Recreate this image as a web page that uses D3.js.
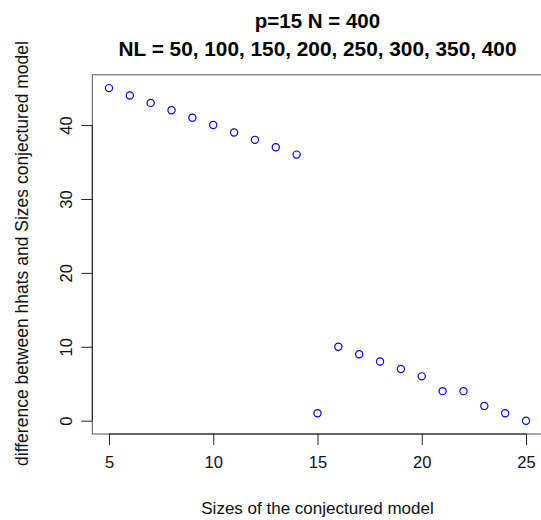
<!DOCTYPE html>
<html><head><meta charset="utf-8">
<script src="https://cdn.jsdelivr.net/npm/d3@7"></script>
<style>body{margin:0;background:#fff;} svg{display:block;}</style>
</head><body>
<script>
const sizes = [5,6,7,8,9,10,11,12,13,14,15,16,17,18,19,20,21,22,23,24,25];
const differences = [45,44,43,42,41,40,39,38,37,36,1,10,9,8,7,6,4,4,2,1,0];
const xTicks = [5,10,15,20,25];
const yTicks = [0,10,20,30,40];
const titleLines = ["p=15 N = 400", "NL = 50, 100, 150, 200, 250, 300, 350, 400"];
const xLabel = "Sizes of the conjectured model";
const yLabel = "difference between hhats and Sizes conjectured model";

const W = 541, H = 520;
const svg = d3.select("body").append("svg").attr("width", W).attr("height", H);
const font = "Liberation Sans, Arial, sans-serif";

const x = d3.scaleLinear().domain([4.2, 25.8]).range([92.3, 542.7]);
const y = d3.scaleLinear().domain([-1.8, 46.8]).range([434, 74.8]);

// box
svg.append("rect").attr("x", x(4.2)).attr("y", y(46.8))
  .attr("width", x(25.8)-x(4.2)).attr("height", y(-1.8)-y(46.8))
  .attr("fill","none").attr("stroke","#555").attr("stroke-width",1);

// x axis
const xa = svg.append("g").attr("transform", `translate(0,${y(-1.8)})`)
  .call(d3.axisBottom(x).tickValues(xTicks).tickSize(11).tickPadding(11).tickFormat(d3.format("d")));
xa.select(".domain").attr("d", `M${x(5)},0H${x(25)}`);
xa.selectAll("text").attr("font-family", font).attr("font-size", 16.5).attr("fill","#111");
xa.selectAll("line,path").attr("stroke","#222");

// y axis
const ya = svg.append("g").attr("transform", `translate(${x(4.2)},0)`)
  .call(d3.axisLeft(y).tickValues(yTicks).tickSize(11).tickFormat(d3.format("d")));
ya.select(".domain").attr("d", `M0,${y(0)}V${y(40)}`);
ya.selectAll("line,path").attr("stroke","#222");
ya.selectAll("text").remove();
ya.selectAll(".tick").append("text")
  .attr("transform","translate(-26,0) rotate(-90)")
  .attr("text-anchor","middle").attr("dy","0.35em")
  .attr("font-family", font).attr("font-size", 16.5).attr("fill","#111")
  .text(d => d);

// points
svg.append("g").selectAll("circle").data(sizes).join("circle")
  .attr("cx", d => x(d)).attr("cy", (d,i) => y(differences[i]))
  .attr("r", 3.6).attr("fill","none").attr("stroke","#0000ff").attr("stroke-width",1.2);

// title
const cx = (x(4.2)+x(25.8))/2;
svg.append("text").attr("x", cx).attr("y", 28).attr("text-anchor","middle")
  .attr("font-family", font).attr("font-weight","bold").attr("font-size",20.5).attr("fill","#000").text(titleLines[0]);
svg.append("text").attr("x", cx).attr("y", 55.5).attr("text-anchor","middle")
  .attr("font-family", font).attr("font-weight","bold").attr("font-size",20.8).attr("fill","#000").text(titleLines[1]);

// axis labels
svg.append("text").attr("x", cx).attr("y", 514).attr("text-anchor","middle")
  .attr("font-family", font).attr("font-size",17).attr("fill","#111").text(xLabel);
svg.append("text").attr("transform", `translate(28,253.5) rotate(-90)`)
  .attr("text-anchor","middle")
  .attr("font-family", font).attr("font-size",17.5).attr("fill","#111").text(yLabel);
</script>
</body></html>
